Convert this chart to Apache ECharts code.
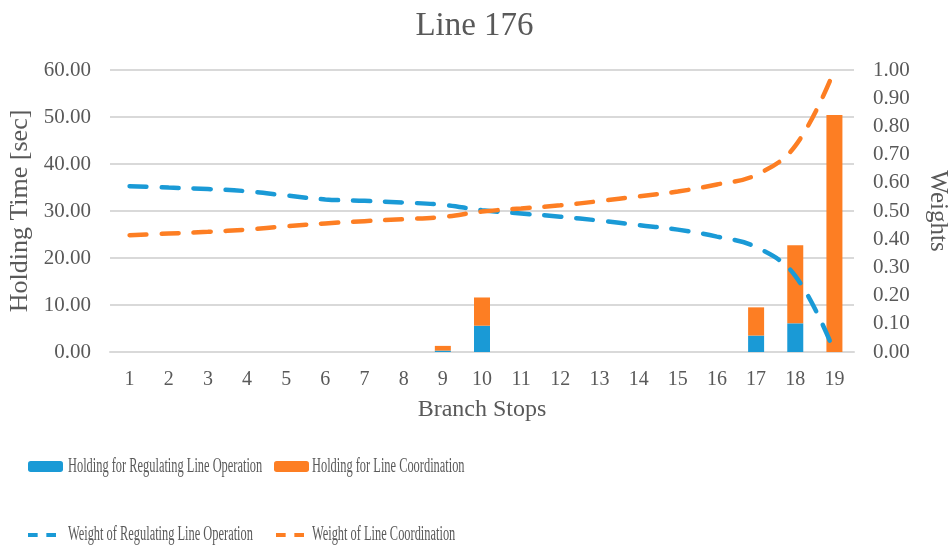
<!DOCTYPE html>
<html>
<head>
<meta charset="utf-8">
<title>Line 176</title>
<script src="https://cdn.jsdelivr.net/npm/echarts@6/dist/echarts.min.js"></script>
<style>
  html, body { margin: 0; padding: 0; background: #fff; }
  #chart { width: 949px; height: 551px; }
</style>
</head>
<body>
<div id="chart"></div>
<script>
const stops = ['1', '2', '3', '4', '5', '6', '7', '8', '9', '10', '11', '12', '13', '14', '15', '16', '17', '18', '19'];

// holding time [sec], stacked
const holdRegulating = [0, 0, 0, 0, 0, 0, 0, 0, 0.3, 5.6, 0, 0, 0, 0, 0, 0, 3.5, 6.1, 0];
const holdCoordination = [0, 0, 0, 0, 0, 0, 0, 0, 1.0, 6.0, 0, 0, 0, 0, 0, 0, 6.0, 16.6, 50.4];

// weights
const weightRegulating = [0.588, 0.583, 0.578, 0.570, 0.555, 0.541, 0.536, 0.530, 0.522, 0.503, 0.491, 0.480, 0.466, 0.450, 0.434, 0.409, 0.372, 0.270, 0.0];
const weightCoordination = [0.414, 0.420, 0.426, 0.434, 0.446, 0.456, 0.464, 0.471, 0.479, 0.498, 0.509, 0.520, 0.535, 0.552, 0.569, 0.594, 0.628, 0.731, 1.0];

const leftTicks = { min: 0, max: 60, interval: 10 };
const rightTicks = { min: 0, max: 1, interval: 0.1 };

const names = {
  holdReg: 'Holding for Regulating Line Operation',
  holdCoord: 'Holding for Line Coordination',
  weightReg: 'Weight of Regulating Line Operation',
  weightCoord: 'Weight of Line Coordination',
};

const blue = '#1a9ad6';
const orange = '#fd7e23';
const textColor = '#595959';
const gridColor = '#d9d9d9';
const font = 'Liberation Serif';
const dashIcon = 'path://M0,0H10V4H0Z M19,0H29V4H19Z';

const chart = echarts.init(document.getElementById('chart'));

// legend draws the icons, the (narrow) labels are drawn as graphic text
function legendItem(name, left, top, w, h, icon) {
  return {
    left, top, padding: 0,
    itemWidth: w, itemHeight: h,
    symbolKeepAspect: false,
    formatter: () => '',
    data: [icon ? { name, icon } : name],
  };
}

function legendLabel(text, x, y) {
  return {
    type: 'text', x, y, scaleX: 0.62,
    style: { text, fill: textColor, font: '20px "Liberation Serif"', verticalAlign: 'middle' },
  };
}

chart.setOption({
  animation: false,
  title: {
    text: 'Line 176',
    left: 'center',
    top: 5,
    textStyle: { color: textColor, fontFamily: font, fontSize: 33, fontWeight: 'normal' },
  },
  legend: [
    legendItem(names.holdReg, 28, 461, 35, 11),
    legendItem(names.holdCoord, 274, 461, 35, 11),
    legendItem(names.weightReg, 28, 533, 28, 4, dashIcon),
    legendItem(names.weightCoord, 276, 533, 28, 4, dashIcon),
  ],
  graphic: [
    legendLabel(names.holdReg, 68, 467),
    legendLabel(names.holdCoord, 312, 467),
    legendLabel(names.weightReg, 68, 535),
    legendLabel(names.weightCoord, 312, 535),
  ],
  grid: { left: 110, right: 95, top: 70, bottom: 199, outerBoundsMode: 'none' },
  xAxis: {
    type: 'category',
    data: stops,
    name: 'Branch Stops',
    nameLocation: 'middle',
    nameGap: 46,
    nameTextStyle: { color: textColor, fontFamily: font, fontSize: 24 },
    axisLine: { lineStyle: { color: gridColor, width: 2 } },
    axisTick: { show: false },
    axisLabel: { color: textColor, fontFamily: font, fontSize: 20, margin: 18 },
  },
  yAxis: [
    {
      type: 'value',
      min: leftTicks.min,
      max: leftTicks.max,
      interval: leftTicks.interval,
      name: 'Holding Time [sec]',
      nameLocation: 'middle',
      nameGap: 77,
      nameTextStyle: { color: textColor, fontFamily: font, fontSize: 26 },
      axisLabel: {
        color: textColor, fontFamily: font, fontSize: 21, margin: 19,
        formatter: (v) => v.toFixed(2),
      },
      splitLine: { lineStyle: { color: gridColor, width: 2 } },
    },
    {
      type: 'value',
      min: rightTicks.min,
      max: rightTicks.max,
      interval: rightTicks.interval,
      name: 'Weights',
      nameLocation: 'middle',
      nameGap: 71,
      nameRotate: -90,
      nameTextStyle: { color: textColor, fontFamily: font, fontSize: 25 },
      axisLabel: {
        color: textColor, fontFamily: font, fontSize: 21, margin: 19,
        formatter: (v) => v.toFixed(2),
      },
      splitLine: { show: false },
    },
  ],
  series: [
    {
      name: names.holdReg,
      type: 'bar',
      stack: 'hold',
      barWidth: 16,
      itemStyle: { color: blue },
      data: holdRegulating,
    },
    {
      name: names.holdCoord,
      type: 'bar',
      stack: 'hold',
      barWidth: 16,
      itemStyle: { color: orange },
      data: holdCoordination,
    },
    {
      name: names.weightReg,
      type: 'line',
      yAxisIndex: 1,
      smooth: 0.4,
      symbol: 'none',
      lineStyle: { color: blue, width: 4.5, type: [17, 15], cap: 'round' },
      itemStyle: { color: blue },
      data: weightRegulating,
    },
    {
      name: names.weightCoord,
      type: 'line',
      yAxisIndex: 1,
      smooth: 0.4,
      symbol: 'none',
      lineStyle: { color: orange, width: 4.5, type: [17, 15], cap: 'round' },
      itemStyle: { color: orange },
      data: weightCoordination,
    },
  ],
});
</script>
</body>
</html>
